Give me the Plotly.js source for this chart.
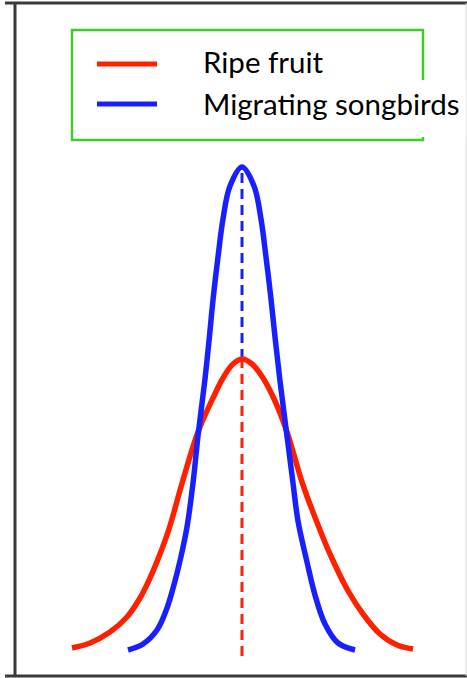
<!DOCTYPE html>
<html>
<head>
<meta charset="utf-8">
<script src="https://cdn.plot.ly/plotly-3.0.1.min.js"></script>
<style>html,body{margin:0;padding:0;background:#fff;}#chart{width:467px;height:678px;}</style>
</head>
<body>
<div id="chart"></div>
<script>
// Series names
var seriesNames = ["Ripe fruit", "Migrating songbirds"];

// Ripe fruit curve (x relative to peak, height above baseline)
var fruitX = [-170, -152, -132, -115, -102, -92, -82, -73, -59, -44, -29, -19, -9, 0, 10, 21, 33, 45, 61, 78, 88, 105, 121, 138, 155, 171];
var fruitY = [3, 8, 19, 34, 53, 73, 97, 122, 171, 219, 253, 273, 287, 292, 287, 273, 250, 219, 166, 121, 97, 62, 37, 17, 6, 2];

// Migrating songbirds curve
var birdX = [-114, -99, -85, -75, -67, -60, -55, -49, -44, -37, -33, -29, -24, -19, -12, 0, 12, 19, 24, 29, 33, 38, 45, 51, 56, 65, 73, 83, 96, 113];
var birdY = [1, 7, 21, 43, 70, 99, 124, 168, 215, 272, 310, 351, 394, 432, 465, 484, 465, 432, 394, 352, 314, 270, 215, 168, 130, 89, 56, 27, 8, 1];

// Peak marker (dashed vertical line) levels
var peakX = 0;
var dashBottom = -5;

var red = "rgb(255,32,0)";
var blue = "rgb(24,32,255)";
var green = "rgb(60,205,40)";

var W = 467, H = 678;
function px(x){ return x / W; }
function py(y){ return 1 - y / H; }

var fruitPeak = fruitY[fruitX.indexOf(peakX)];
var birdPeak = birdY[birdX.indexOf(peakX)];

var traces = [
  {x: [peakX, peakX], y: [dashBottom, fruitPeak], mode: "lines",
   line: {color: red, width: 3, dash: "10px,6px"}, showlegend: false, hoverinfo: "skip"},
  {x: [peakX, peakX], y: [fruitPeak, birdPeak], mode: "lines",
   line: {color: blue, width: 3, dash: "10px,6px"}, showlegend: false, hoverinfo: "skip"},
  {x: fruitX, y: fruitY, name: seriesNames[0], mode: "lines",
   line: {color: red, width: 5.5, shape: "spline", smoothing: 1, simplify: false}},
  {x: birdX, y: birdY, name: seriesNames[1], mode: "lines",
   line: {color: blue, width: 5.5, shape: "spline", smoothing: 1, simplify: false}}
];

var frame = "#3a3a3a";
var shapes = [
  // frame lines
  {type: "line", xref: "paper", yref: "paper", x0: px(15), x1: px(15), y0: py(3), y1: py(676), line: {color: frame, width: 3}},
  {type: "line", xref: "paper", yref: "paper", x0: px(5), x1: px(467), y0: py(3), y1: py(3), line: {color: frame, width: 3}},
  {type: "line", xref: "paper", yref: "paper", x0: px(5), x1: px(467), y0: py(676), y1: py(676), line: {color: frame, width: 3}},
  {type: "line", xref: "paper", yref: "paper", x0: px(466), x1: px(466), y0: py(3), y1: py(676), line: {color: "#d8d8d8", width: 1}},
  // legend box
  {type: "rect", xref: "paper", yref: "paper", x0: px(72), x1: px(423), y0: py(30), y1: py(140), line: {color: green, width: 2.5}},
  {type: "rect", xref: "paper", yref: "paper", x0: px(183), x1: px(466), y0: py(80), y1: py(137), fillcolor: "#fff", line: {width: 0}},
  // legend samples
  {type: "line", xref: "paper", yref: "paper", x0: px(97), x1: px(157), y0: py(64), y1: py(64), line: {color: red, width: 5}},
  {type: "line", xref: "paper", yref: "paper", x0: px(97), x1: px(157), y0: py(104), y1: py(104), line: {color: blue, width: 5}}
];

var legendFont = {family: "Lato, 'Open Sans', sans-serif", size: 29.5, color: "#000"};
var annotations = [
  {xref: "paper", yref: "paper", x: px(201), y: py(62), xanchor: "left", yanchor: "middle", showarrow: false,
   text: seriesNames[0], font: legendFont},
  {xref: "paper", yref: "paper", x: px(201), y: py(104), xanchor: "left", yanchor: "middle", showarrow: false,
   text: seriesNames[1], font: legendFont}
];

var layout = {
  width: W, height: H,
  margin: {l: 0, r: 0, t: 0, b: 0},
  paper_bgcolor: "#fff", plot_bgcolor: "#fff",
  showlegend: false,
  xaxis: {range: [-242, 225], visible: false, fixedrange: true},
  yaxis: {range: [-27, 651], visible: false, fixedrange: true},
  shapes: shapes,
  annotations: annotations
};

Plotly.newPlot("chart", traces, layout, {displayModeBar: false, staticPlot: true});
</script>
</body>
</html>
